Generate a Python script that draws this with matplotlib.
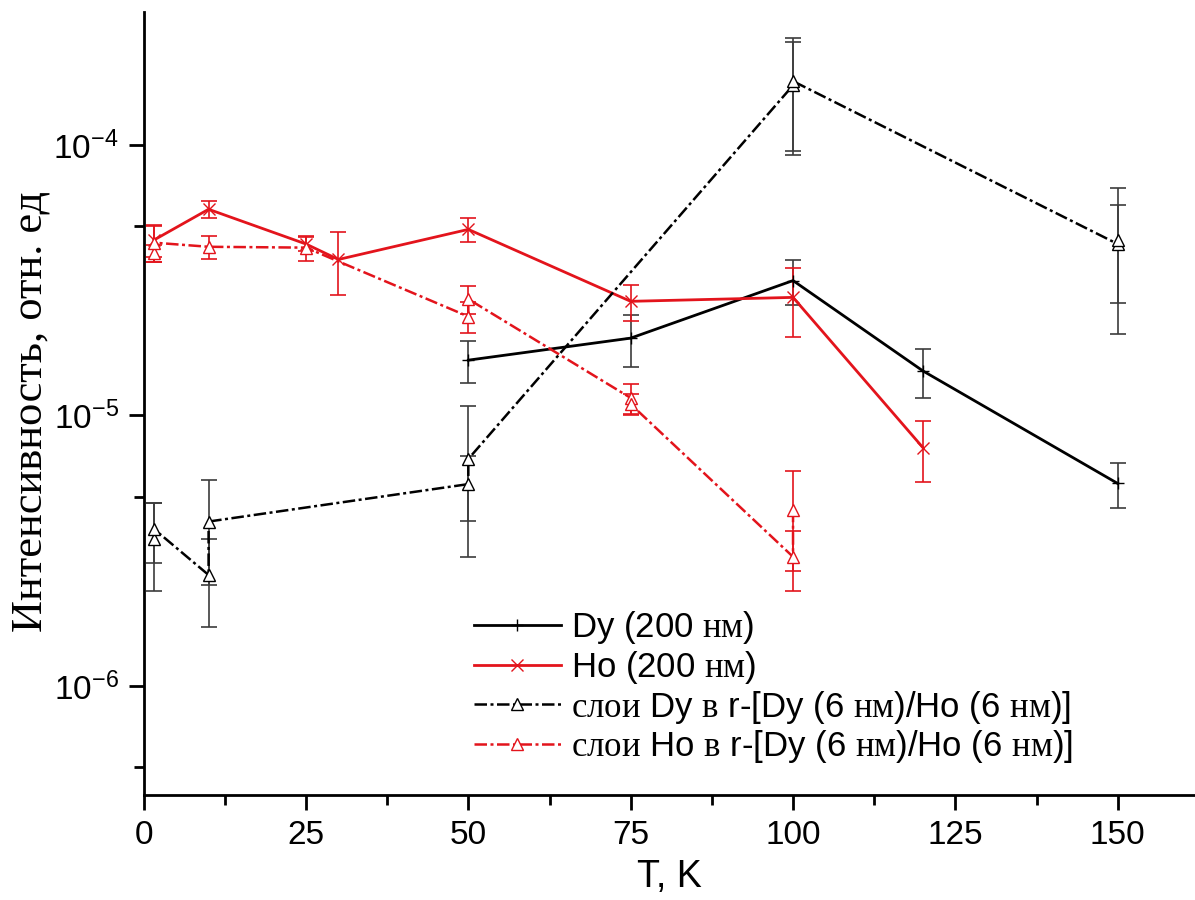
import matplotlib
matplotlib.use("Agg")
import matplotlib.pyplot as plt
from matplotlib.ticker import LogLocator, FixedLocator, LogFormatterSciNotation, NullFormatter

plt.rcParams['font.family'] = ['Liberation Sans', 'DejaVu Sans']
plt.rcParams['mathtext.fontset'] = 'custom'
plt.rcParams['mathtext.rm'] = 'Liberation Serif'
plt.rcParams['mathtext.it'] = 'Liberation Serif:italic'
plt.rcParams['mathtext.bf'] = 'Liberation Serif:bold'
plt.rcParams['axes.unicode_minus'] = False

# ---------------- data ----------------
dy200_T = [50, 75, 100, 120, 150]
dy200_I = [1.60e-5, 1.93e-5, 3.15e-5, 1.46e-5, 5.6e-6]
dy200_E = [0.28e-5, 0.42e-5, 0.60e-5, 0.30e-5, 1.05e-6]

ho200_T = [1.6, 10, 25, 30, 50, 75, 100, 120]
ho200_I = [4.45e-5, 5.78e-5, 4.30e-5, 3.77e-5, 4.87e-5, 2.64e-5, 2.73e-5, 7.6e-6]
ho200_E = [0.60e-5, 0.40e-5, 0.25e-5, 0.98e-5, 0.50e-5, 0.40e-5, 0.78e-5, 1.95e-6]

dyL_T = [1.6, 1.6, 10, 10, 50, 50, 100, 100, 150, 150]
dyL_I = [3.5e-6, 3.8e-6, 2.57e-6, 4.05e-6, 5.57e-6, 6.9e-6, 1.66e-4, 1.72e-4, 4.3e-5, 4.45e-5]
dyL_E = [1.25e-6, 0.95e-6, 0.92e-6, 1.7e-6, 1.5e-6, 3.9e-6, 0.74e-4, 0.77e-4, 1.7e-5, 2.45e-5]

hoL_T = [1.6, 1.6, 10, 25, 50, 50, 75, 75, 100, 100]
hoL_I = [3.98e-5, 4.35e-5, 4.20e-5, 4.17e-5, 2.32e-5, 2.69e-5, 1.16e-5, 1.10e-5, 3.0e-6, 4.45e-6]
hoL_E = [0.30e-5, 0.65e-5, 0.40e-5, 0.45e-5, 0.30e-5, 0.33e-5, 0.15e-5, 0.10e-5, 0.75e-6, 1.8e-6]

labels = [
    r'Dy (200 $\mathrm{нм}$)',
    r'Ho (200 $\mathrm{нм}$)',
    r'$\mathrm{слои}$ Dy $\mathrm{в}$ r-[Dy (6 $\mathrm{нм}$)/Ho (6 $\mathrm{нм}$)]',
    r'$\mathrm{слои}$ Ho $\mathrm{в}$ r-[Dy (6 $\mathrm{нм}$)/Ho (6 $\mathrm{нм}$)]',
]
x_ticks = [0, 25, 50, 75, 100, 125, 150]
xlabel = 'T, K'
ylabel = 'Интенсивность, отн. ед'

# ---------------- figure ----------------
RED = '#e3141c'
BLK = '#000000'
EBK = '#3c3c3c'
dashdot = (0, (5, 1.4, 1.2, 1.4))

fig = plt.figure(figsize=(11.95, 9.0), dpi=100)
ax = fig.add_axes([0.1202, 0.1167, 0.8798, 0.8700])

ekw = dict(capsize=5.5, elinewidth=1.2, capthick=1.2, zorder=2)
ax.errorbar(dy200_T, dy200_I, yerr=dy200_E, fmt='none', ecolor=EBK, **ekw)
ax.errorbar(ho200_T, ho200_I, yerr=ho200_E, fmt='none', ecolor=RED, **ekw)
ax.errorbar(dyL_T, dyL_I, yerr=dyL_E, fmt='none', ecolor=EBK, **ekw)
ax.errorbar(hoL_T, hoL_I, yerr=hoL_E, fmt='none', ecolor=RED, **ekw)

h1, = ax.plot(dy200_T, dy200_I, color=BLK, lw=2.0, marker='+', ms=8, mew=1.0, zorder=3)
h2, = ax.plot(ho200_T, ho200_I, color=RED, lw=2.0, marker='x', ms=8, mew=1.0, zorder=3)
h3, = ax.plot(dyL_T, dyL_I, color=BLK, lw=1.8, ls=dashdot, marker='^', ms=9,
              mfc='white', mec=BLK, mew=1.0, zorder=3)
h4, = ax.plot(hoL_T, hoL_I, color=RED, lw=1.8, ls=dashdot, marker='^', ms=9,
              mfc='white', mec=RED, mew=1.0, zorder=3)

ax.set_yscale('log')
ax.set_xlim(0, 161.9)
ax.set_ylim(3.95e-7, 3.1e-4)

ax.set_xticks(x_ticks)
ax.set_xticks([12.5, 37.5, 62.5, 87.5, 112.5, 137.5], minor=True)
ax.yaxis.set_major_locator(LogLocator(base=10, numticks=10))
ax.yaxis.set_minor_locator(FixedLocator([5e-7, 5e-6, 5e-5]))
ax.yaxis.set_major_formatter(LogFormatterSciNotation())
ax.yaxis.set_minor_formatter(NullFormatter())

for s in ['top', 'right']:
    ax.spines[s].set_visible(False)
for s in ['left', 'bottom']:
    ax.spines[s].set_linewidth(2.0)

ax.tick_params(axis='both', which='major', direction='out', length=11, width=2.0,
               labelsize=24, pad=7)
ax.tick_params(axis='both', which='minor', direction='out', length=7, width=2.0)

ax.set_xlabel(xlabel, fontsize=27, labelpad=6)
ax.set_ylabel(ylabel, fontsize=32, family=['Liberation Serif', 'DejaVu Serif'])
ax.yaxis.label.set_va('center')
ax.yaxis.set_label_coords(-0.108, 0.49)

leg = ax.legend([h1, h2, h3, h4], labels, loc='upper left',
                bbox_to_anchor=(474 / 1195, 1 - 609 / 900), bbox_transform=fig.transFigure,
                frameon=False, fontsize=25, handlelength=2.5, handletextpad=0.3,
                labelspacing=0.08, borderpad=0, borderaxespad=0)

fig.savefig('out.png', dpi=100)
